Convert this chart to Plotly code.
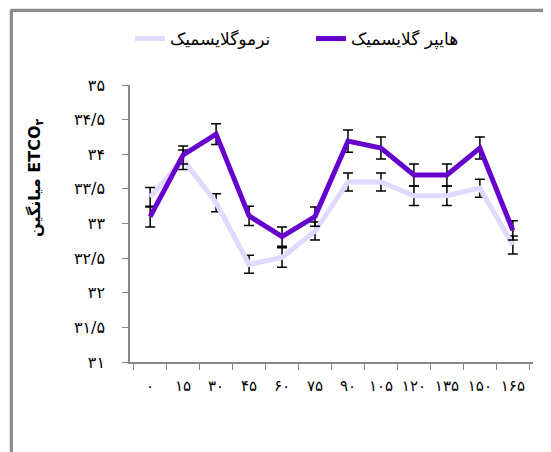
import plotly.graph_objects as go

times = ["۰", "۱۵", "۳۰", "۴۵", "۶۰", "۷۵", "۹۰", "۱۰۵", "۱۲۰", "۱۳۵", "۱۵۰", "۱۶۵"]
hyper = [33.10, 33.99, 34.29, 33.11, 32.81, 33.10, 34.19, 34.09, 33.70, 33.70, 34.09, 32.90]
hyper_err = [0.15, 0.13, 0.15, 0.14, 0.14, 0.14, 0.16, 0.16, 0.16, 0.16, 0.16, 0.14]
normo = [33.38, 33.92, 33.30, 32.41, 32.51, 32.89, 33.60, 33.60, 33.40, 33.40, 33.51, 32.69]
normo_err = [0.14, 0.14, 0.13, 0.13, 0.14, 0.13, 0.13, 0.13, 0.14, 0.14, 0.13, 0.13]
y_ticks = [31, 31.5, 32, 32.5, 33, 33.5, 34, 34.5, 35]
y_labels = ["۳۱", "۳۱/۵", "۳۲", "۳۲/۵", "۳۳", "۳۳/۵", "۳۴", "۳۴/۵", "۳۵"]

FONT = "DejaVu Sans"

fig = go.Figure()
fig.add_trace(go.Scatter(
    x=times, y=normo, mode="lines", name="نرموگلایسمیک",
    line=dict(color="#E1D9FF", width=5),
    error_y=dict(type="data", array=normo_err, color="black", thickness=1.5, width=5),
))
fig.add_trace(go.Scatter(
    x=times, y=hyper, mode="lines", name="هایپر گلایسمیک",
    line=dict(color="#6600CC", width=5),
    error_y=dict(type="data", array=hyper_err, color="black", thickness=1.5, width=5),
))

L = -0.296   # paper x of left frame edge
T = 1.272    # paper y of top frame edge
frame = dict(color="#8c8c8c", width=2)

fig.update_layout(
    template="none",
    width=543, height=444,
    margin=dict(l=122, r=18, t=77, b=90, autoexpand=False),
    paper_bgcolor="white", plot_bgcolor="white",
    font=dict(family=FONT, size=14, color="black"),
    showlegend=True,
    legend=dict(orientation="h", x=0.0, xanchor="left", y=1.166, yanchor="middle",
                font=dict(family=FONT, size=17), entrywidth=136, entrywidthmode="pixels",
                traceorder="normal", bgcolor="rgba(0,0,0,0)"),
    xaxis=dict(
        type="category", showline=True, linecolor="#888888", linewidth=1.5,
        ticks="outside", tickson="boundaries", ticklen=6, tickcolor="#888888",
        showgrid=False, zeroline=False, tickfont=dict(size=15), tickangle=0,
        ticklabelstandoff=9, automargin=False,
    ),
    yaxis=dict(
        range=[31, 35], tickvals=y_ticks, ticktext=y_labels,
        showline=True, linecolor="#888888", linewidth=1.5,
        ticks="outside", ticklen=6, tickcolor="#888888",
        showgrid=False, zeroline=False, tickfont=dict(size=16), ticklabelstandoff=14,
        automargin=False,
    ),
    annotations=[
        dict(text="<b>میانگین ETCO<sub>۲</sub></b>", xref="paper", yref="paper",
             x=-0.236, y=0.664, textangle=-90, showarrow=False,
             font=dict(size=16), xanchor="center", yanchor="middle"),
        dict(text=" ", xref="paper", yref="paper", x=L, y=T, xanchor="left", yanchor="top",
             width=640, height=520, showarrow=False, bordercolor="#8c8c8c",
             borderwidth=2, borderpad=0),
    ],
    shapes=[
        dict(type="line", xref="paper", yref="paper", x0=L, x1=L, y0=-0.4, y1=T,
             line=frame, layer="above"),
        dict(type="line", xref="paper", yref="paper", x0=L, x1=1.1, y0=T, y1=T,
             line=frame, layer="above"),
    ],
)

fig.write_html("out.html")
